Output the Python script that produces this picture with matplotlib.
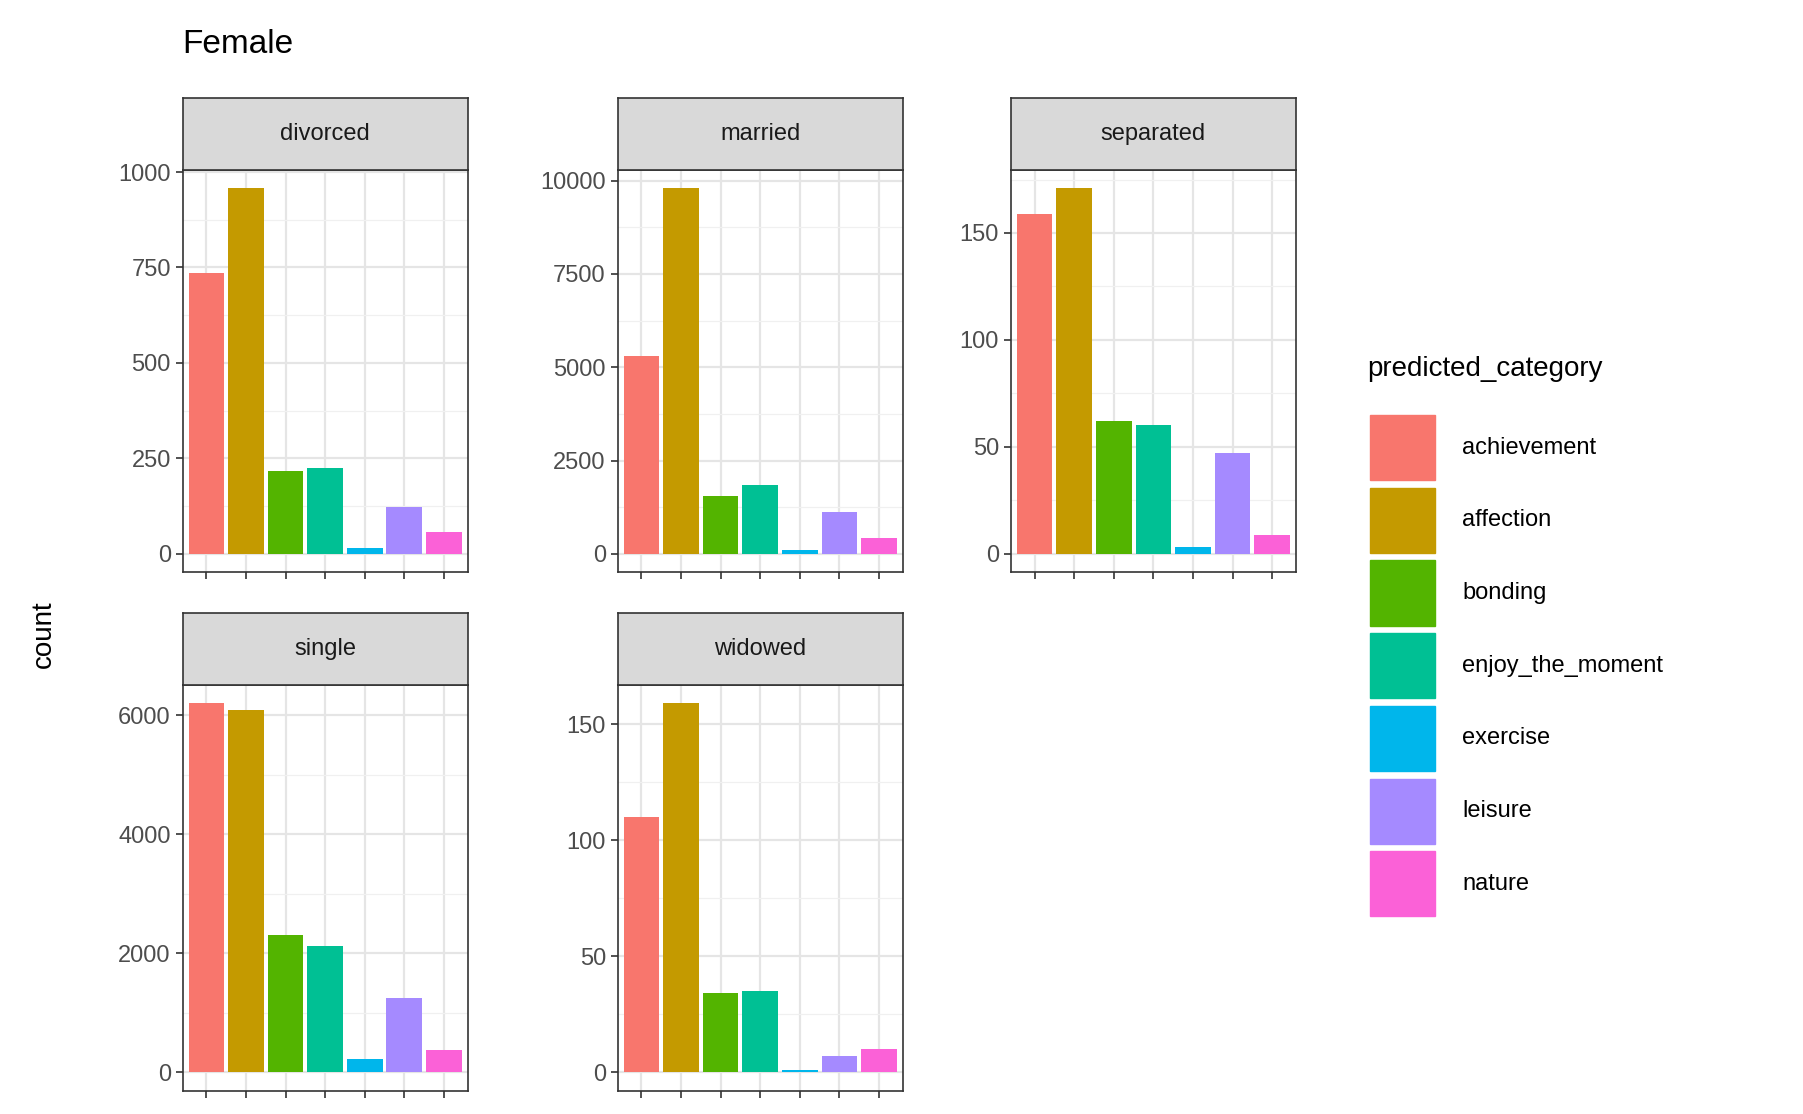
import numpy as np
import matplotlib.pyplot as plt
from matplotlib.patches import Rectangle
from matplotlib.ticker import MultipleLocator, AutoMinorLocator

categories = ["achievement", "affection", "bonding", "enjoy_the_moment",
              "exercise", "leisure", "nature"]
colors = ["#F8766D", "#C49A00", "#53B400", "#00C094", "#00B6EB", "#A58AFF", "#FB61D7"]

divorced = [735, 958, 218, 225, 15, 122, 58]
married = [5300, 9800, 1550, 1850, 100, 1130, 430]
separated = [159, 171, 62, 60, 3, 47, 9]
single = [6200, 6080, 2300, 2130, 230, 1250, 370]
widowed = [110, 159, 34, 35, 1, 7, 10]

panels = [("divorced", divorced, 250), ("married", married, 2500),
          ("separated", separated, 50), ("single", single, 2000),
          ("widowed", widowed, 50)]

W, H = 1550, 958
fig = plt.figure(figsize=(18.03, 11.14), dpi=100)
plt.rcParams['font.family'] = ['Liberation Sans', 'DejaVu Sans']

lefts = [157, 531, 869]
rows = [(146, 492), (589, 938)]
pw = 245
strip_h = 62

for i, (name, vals, step) in enumerate(panels):
    r, c = divmod(i, 3)
    top, bot = rows[r]
    ax = fig.add_axes([lefts[c] / W, (H - bot) / H, pw / W, (bot - top) / H])
    x = np.arange(len(categories))
    ax.bar(x, vals, width=0.9, color=colors, zorder=3)
    mx = max(vals)
    ax.set_ylim(-0.05 * mx, 1.05 * mx)
    ax.set_xlim(-0.6, 6.6)
    ax.set_xticks(x)
    ax.set_xticklabels([])
    ax.yaxis.set_major_locator(MultipleLocator(step))
    ax.yaxis.set_minor_locator(AutoMinorLocator(2))
    ax.grid(True, which='major', color='#E5E5E5', lw=1.6, zorder=0)
    ax.grid(True, which='minor', axis='y', color='#F0F0F0', lw=0.9, zorder=0)
    ax.tick_params(axis='both', which='major', length=5, width=1.2, color='#333333',
                   labelsize=17, labelcolor='#4D4D4D')
    ax.tick_params(which='minor', length=0)
    for s in ax.spines.values():
        s.set_color('#333333')
        s.set_linewidth(1.2)
    sax = fig.add_axes([lefts[c] / W, (H - top) / H, pw / W, strip_h / H])
    sax.set_xticks([]); sax.set_yticks([])
    sax.set_facecolor('#D9D9D9')
    for s in sax.spines.values():
        s.set_color('#333333')
        s.set_linewidth(1.2)
    sax.text(0.5, 0.5, name, ha='center', va='center', fontsize=17,
             color='#1A1A1A', transform=sax.transAxes)

fig.text(157 / W, 1 - 38 / H, "Female", fontsize=24, va='center', ha='left')
fig.text(38 / W, 1 - 545 / H, "count", fontsize=20, rotation=90, va='center', ha='center')

fig.text(1175 / W, 1 - 317 / H, "predicted_category", fontsize=20, va='center')
for k, (cat, col) in enumerate(zip(categories, colors)):
    yc = 385 + k * 62.5
    fig.patches.append(Rectangle((1178 / W, 1 - (yc + 28) / H), 56 / W, 56 / H,
                                 transform=fig.transFigure, color=col))
    fig.text(1257 / W, 1 - yc / H, cat, fontsize=17, va='center')

fig.savefig("out.png", dpi=100)
